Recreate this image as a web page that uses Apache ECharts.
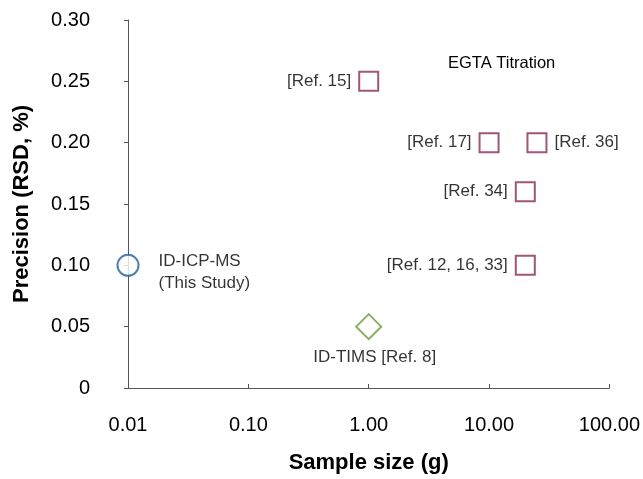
<!DOCTYPE html>
<html>
<head>
<meta charset="utf-8">
<script src="https://cdn.jsdelivr.net/npm/echarts@6/dist/echarts.min.js"></script>
<style>
  html, body { margin: 0; padding: 0; background: #fff; }
  #main { width: 643px; height: 479px; }
</style>
</head>
<body>
<div id="main"></div>
<script>
// sample size (g) and precision (RSD, %)
var icpms = [[0.01, 0.10]];
var icpmsLabel = 'ID-ICP-MS\n(This Study)';

var tims = [[1, 0.05]];
var timsLabel = 'ID-TIMS [Ref. 8]';

var egtaX = [1, 10, 25, 20, 20];
var egtaY = [0.25, 0.20, 0.20, 0.16, 0.10];
var egtaLabels = ['[Ref. 15]', '[Ref. 17]', '[Ref. 36]', '[Ref. 34]', '[Ref. 12, 16, 33]'];
var egtaSide = ['left', 'left', 'right', 'left', 'left'];

var font = 'Liberation Sans, Arial, Helvetica, sans-serif';

var egtaData = [];
for (var i = 0; i < egtaX.length; i++) {
    egtaData.push({
        value: [egtaX[i], egtaY[i]],
        name: egtaLabels[i],
        label: { position: egtaSide[i] }
    });
}

var mychart = echarts.init(document.getElementById('main'));
var option = {
    backgroundColor: '#fff',
    animation: false,
    textStyle: { fontFamily: font },
    grid: {
        left: 128,
        right: 32,
        top: 20,
        bottom: 86
    },
    xAxis: {
        type: 'log',
        logBase: 10,
        min: 0.01,
        max: 100,
        name: 'Sample size (g)',
        nameLocation: 'middle',
        nameGap: 64,
        nameTextStyle: { fontSize: 22, fontWeight: 'bold', color: '#000', fontFamily: font },
        splitLine: { show: false },
        axisLine: { lineStyle: { color: '#555', width: 1 } },
        axisTick: { inside: true, length: 4, lineStyle: { color: '#555' } },
        axisLabel: {
            fontSize: 20,
            color: '#000',
            margin: 27,
            formatter: function (v) { return v.toFixed(2); }
        }
    },
    yAxis: {
        type: 'value',
        min: 0,
        max: 0.30,
        interval: 0.05,
        name: 'Precision (RSD, %)',
        nameLocation: 'middle',
        nameGap: 95,
        nameTextStyle: { fontSize: 22, fontWeight: 'bold', color: '#000', fontFamily: font },
        splitLine: { show: false },
        axisLine: { show: true, lineStyle: { color: '#555', width: 1 } },
        axisTick: { show: true, length: 4, lineStyle: { color: '#555' } },
        axisLabel: {
            fontSize: 20,
            color: '#000',
            margin: 38,
            formatter: function (v) {
                if (v === 0) return '0';
                return v.toFixed(2);
            }
        }
    },
    graphic: [{
        type: 'text',
        left: 448,
        top: 55,
        style: { text: 'EGTA Titration', fontSize: 16.5, fill: '#000', fontFamily: font }
    }],
    series: [
        {
            name: 'ID-ICP-MS',
            type: 'scatter',
            data: icpms,
            symbol: 'circle',
            symbolSize: 21,
            itemStyle: { color: '#fff', borderColor: '#1f5e9c', borderWidth: 2 },
            label: {
                show: true,
                position: 'right',
                distance: 19,
                offset: [0, 7],
                formatter: icpmsLabel,
                fontSize: 17,
                lineHeight: 22,
                color: '#000',
                align: 'left'
            },
            z: 5
        },
        {
            name: 'ID-TIMS',
            type: 'scatter',
            data: tims,
            symbol: 'diamond',
            symbolSize: [25, 25],
            itemStyle: { color: '#fff', borderColor: '#6b9a3a', borderWidth: 2 },
            label: {
                show: true,
                position: 'bottom',
                distance: 9,
                offset: [6, 0],
                formatter: timsLabel,
                fontSize: 17,
                color: '#000'
            }
        },
        {
            name: 'EGTA Titration',
            type: 'scatter',
            data: egtaData,
            symbol: 'rect',
            symbolSize: 19,
            itemStyle: { color: '#fff', borderColor: '#8a2a55', borderWidth: 2 },
            label: {
                show: true,
                distance: 7,
                formatter: '{b}',
                fontSize: 17,
                color: '#000'
            }
        }
    ]
};
mychart.setOption(option);
</script>
</body>
</html>
